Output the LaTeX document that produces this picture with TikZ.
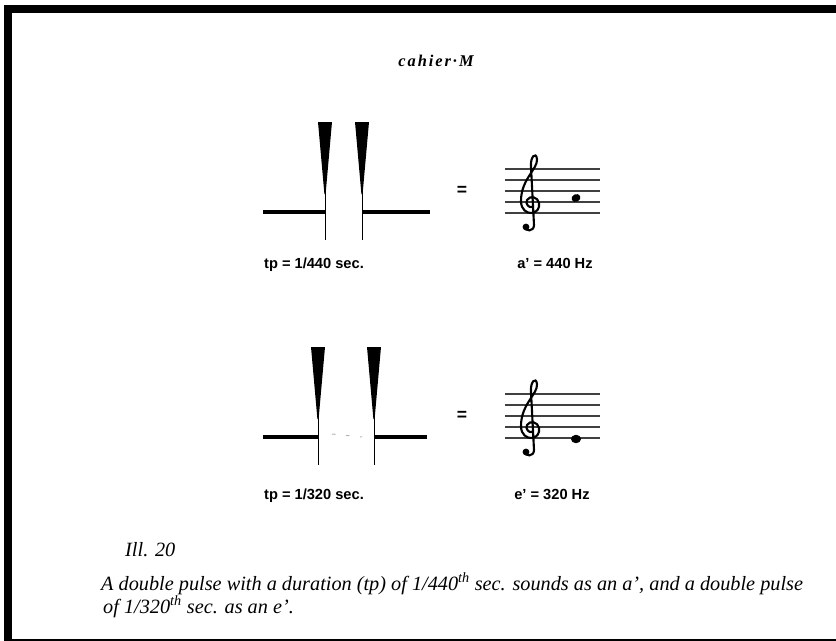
\documentclass[tikz,border=0pt]{standalone}
\usepackage{fontspec}
\setmainfont{Liberation Serif}
\setsansfont{Liberation Sans}
\usetikzlibrary{positioning}

\tikzset{
    gclef/.pic={
        \fill (-4,24) circle (3.4);
        \draw[line width=1.8pt, line cap=round]
            (-6,23) .. controls (-5,29) and (4,29) .. (4,22) -- (1,-36)
            .. controls (0,-46) and (6,-52) .. (7,-44)
            .. controls (8,-34) and (-9,-24) .. (-9,-2)
            .. controls (-9,7) and (-3,10) .. (1,10)
            .. controls (7,10) and (10,5) .. (9,0)
            .. controls (8,-6) and (0,-8) .. (-3,-3)
            .. controls (-5,1) and (-1,5) .. (2,4);
    }
}

\begin{document}
\begin{tikzpicture}[x=0.03cm, y=-0.03cm,
    lbl/.style={font=\sffamily\bfseries\fontsize{12.5}{14}\selectfont, anchor=base, inner sep=0pt},
    eqs/.style={font=\sffamily\bfseries\fontsize{15}{17}\selectfont, inner sep=0pt},
    capt/.style={font=\itshape\fontsize{17.3}{20}\selectfont, anchor=base west, inner sep=0pt},
    hline/.style={line width=3.2pt},
    stem/.style={line width=0.7pt},
    staffline/.style={line width=1.2pt, black!75},
]
\useasboundingbox (0,0) rectangle (836,641);

% ===== frame =====
\fill (4,5) rectangle (836,13);
\fill (4,5) rectangle (12,641);
\fill (4,638.5) rectangle (836,640.5);

% ===== heading =====
\node[font=\bfseries\itshape\fontsize{14}{16}\selectfont\addfontfeature{LetterSpace=12}] (head) at (436,61) {cahier·M};

% ===== double pulses =====
\foreach \sx/\sy in {325/0, 362/0, 318/225, 374/225} {
    \fill (\sx-7,\sy+122) -- (\sx+7,\sy+122) -- (\sx+0.6,\sy+194) -- (\sx-0.6,\sy+194) -- cycle;
    \draw[stem] (\sx,\sy+190) -- (\sx,\sy+240);
}
\draw[hline] (263,212) -- (325,212);
\draw[hline] (362,212) -- (430,212);
\draw[hline] (263,437) -- (318,437);
\draw[hline] (374,437) -- (427,437);
\draw[black!30, line width=0.8pt, dash pattern=on 3pt off 9pt] (332,434) -- (362,437);

% ===== staves =====
\foreach \sy in {0,225} {
    \foreach \k in {0,...,4}
        \draw[staffline] (505,\sy+169+11*\k) -- (600,\sy+169+11*\k);
}
\pic at (530,203) {gclef};
\pic at (530,428) {gclef};
\fill[rotate around={25:(576,198)}] (576,198) ellipse (4.6 and 3.8);
\fill (576,439) ellipse (5 and 4.2);

\node[eqs] (eq1) at (462,191) {=};
\node[eqs] (eq2) at (462,416) {=};

% ===== labels =====
\node[lbl] (tp1) at (314,268) {tp = 1/440 sec.};
\node[lbl] (fa)  at (555,268) {a' = 440 Hz};
\node[lbl] (tp2) at (314,499) {tp = 1/320 sec.};
\node[lbl] (fe)  at (552,499) {e' = 320 Hz};

% ===== caption =====
\node[capt] (ill) at (125,556) {Ill. 20};
\node[capt] (cap1) at (101,590) {A double pulse with a duration (tp) of 1/440\textsuperscript{th} sec. sounds as an a', and a double pulse};
\node[capt] (cap2) at (103,613) {of 1/320\textsuperscript{th} sec. as an e'.};
\end{tikzpicture}
\end{document}
